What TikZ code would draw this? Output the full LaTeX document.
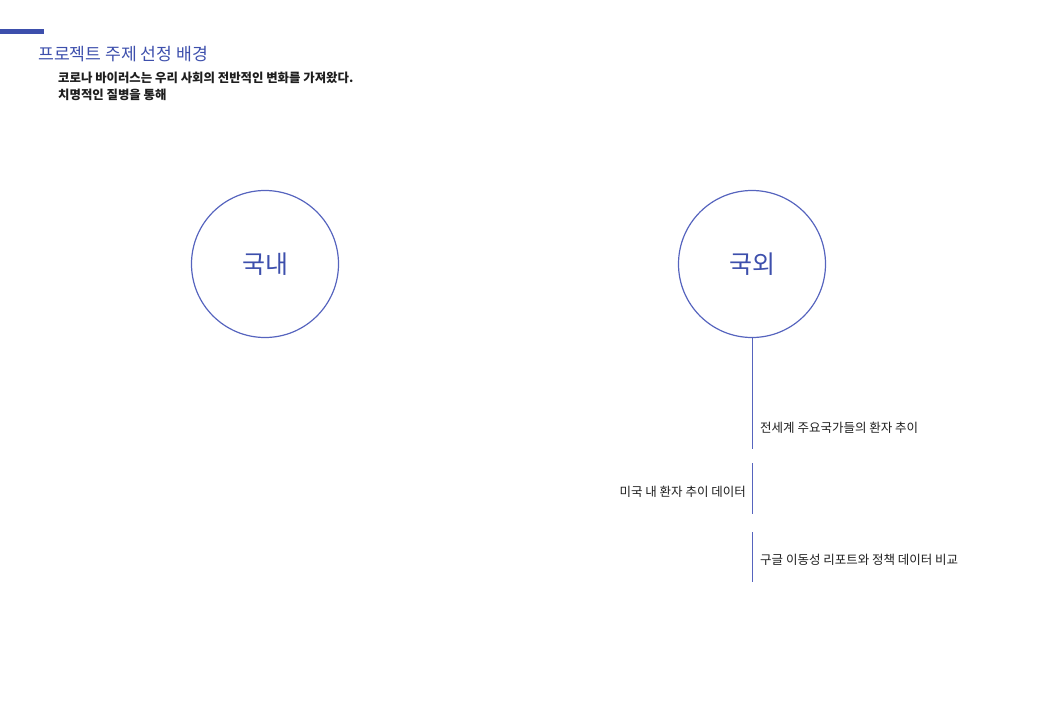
\documentclass[tikz,border=0pt]{standalone}
\usepackage{fontspec}
\setmainfont{Noto Sans CJK KR}
\usetikzlibrary{positioning}

\definecolor{themeblue}{RGB}{61,79,172}
\definecolor{lineblue}{RGB}{86,100,190}
\definecolor{inkgray}{RGB}{30,30,30}

\tikzset{
  topic/.style={circle, draw=lineblue, line width=1.2pt, minimum size=147pt,
    inner sep=0pt, text=themeblue, font=\fontsize{25}{28}\selectfont},
  item/.style={inner sep=0pt, text=inkgray, font=\fontsize{12.5}{15}\selectfont},
  lead/.style={inner sep=0pt, text=inkgray, font=\bfseries\fontsize{12.4}{15}\selectfont},
  branch/.style={draw=lineblue, line width=1pt},
}

\begin{document}
\begin{tikzpicture}[x=1pt, y=-1pt]
  \useasboundingbox (0,0) rectangle (1040,720);

  % heading
  \coordinate (barL) at (0,31.5); %
  \coordinate (barR) at (44,31.5); %
  \draw[themeblue, line width=5pt] (barL) -- (barR);
  \node[anchor=west, inner sep=0pt, text=themeblue, font=\fontsize{17.2}{20}\selectfont] (title) at (38,54.5) {프로젝트 주제 선정 배경}; %
  \node[lead, anchor=west] (sub1) at (58,78) {코로나 바이러스는 우리 사회의 전반적인 변화를 가져왔다.}; %
  \node[lead, anchor=west] (sub2) at (58,95) {치명적인 질병을 통해}; %

  % circles
  \node[topic] (dom) at (265,264) {국내}; %
  \node[topic] (ext) at (752,264) {국외}; %

  % branch
  \coordinate (s1) at (752,449); %
  \coordinate (s2a) at (752,463); %
  \coordinate (s2b) at (752,514); %
  \coordinate (s3a) at (752,532); %
  \coordinate (s3b) at (752,582); %
  \draw[branch] (ext.south) -- (s1);
  \draw[branch] (s2a) -- (s2b);
  \draw[branch] (s3a) -- (s3b);

  % labels
  \node[item, anchor=west] (world) at (760,428) {전세계 주요국가들의 환자 추이}; %
  \node[item, anchor=east] (usa) at (746,492) {미국 내 환자 추이 데이터}; %
  \node[item, anchor=west] (mob) at (760,560) {구글 이동성 리포트와 정책 데이터 비교}; %

\end{tikzpicture}
\end{document}
